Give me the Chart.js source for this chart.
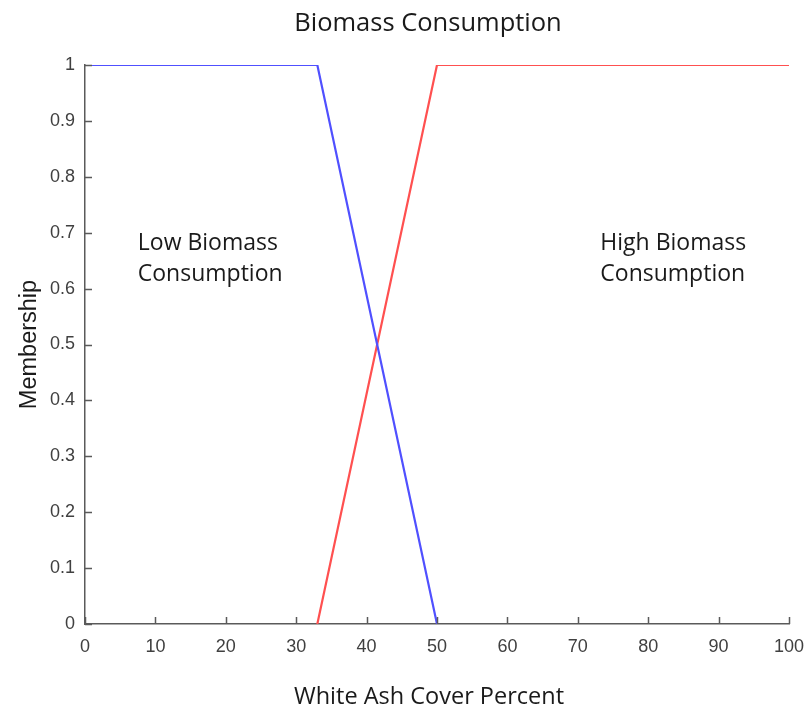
<!DOCTYPE html>
<html>
<head>
<meta charset="utf-8">
<script src="https://cdn.jsdelivr.net/npm/chart.js@4.4.1/dist/chart.umd.min.js"></script>
<style>
  html, body { margin: 0; padding: 0; background: #fff; }
  #wrap { width: 807px; height: 709px; }
</style>
</head>
<body>
<div id="wrap"><canvas id="fuzzyChart"></canvas></div>
<script>
// membership function breakpoints
const lowX = [0, 33, 50];
const lowY = [1, 1, 0];
const highX = [33, 50, 100];
const highY = [0, 1, 1];

const xTicks = [0, 10, 20, 30, 40, 50, 60, 70, 80, 90, 100];
const yTicks = [0, 0.1, 0.2, 0.3, 0.4, 0.5, 0.6, 0.7, 0.8, 0.9, 1];

const chartTitle = 'Biomass Consumption';
const xTitle = 'White Ash Cover Percent';
const yTitle = 'Membership';
const lowLabel = ['Low Biomass', 'Consumption'];
const highLabel = ['High Biomass', 'Consumption'];

const toPoints = (xs, ys) => xs.map((x, i) => ({ x: x, y: ys[i] }));

const axisColor = '#5a5a5a';
const textFont = '"Open Sans", Lato, sans-serif';
const tickFont = { family: '"Liberation Sans", Arial, sans-serif', size: 18 };

// inward tick marks + free text (titles, region labels)
const extras = {
    id: 'extras',
    afterDraw(chart) {
        const ctx = chart.ctx;
        const xs = chart.scales.x, ys = chart.scales.y;
        const area = chart.chartArea;
        ctx.save();
        ctx.strokeStyle = axisColor;
        ctx.lineWidth = 1.5;
        ctx.beginPath();
        xTicks.forEach(v => {
            const px = Math.round(xs.getPixelForValue(v)) + 0.5;
            ctx.moveTo(px, area.bottom);
            ctx.lineTo(px, area.bottom - 7);
        });
        yTicks.forEach(v => {
            const py = Math.round(ys.getPixelForValue(v)) + 0.5;
            ctx.moveTo(area.left, py);
            ctx.lineTo(area.left + 7, py);
        });
        ctx.stroke();

        ctx.fillStyle = '#1a1a1a';
        ctx.textAlign = 'center';
        ctx.textBaseline = 'middle';
        ctx.font = '25.5px ' + textFont;
        ctx.fillText(chartTitle, 428, 24);
        ctx.font = '23.5px ' + textFont;
        ctx.fillText(xTitle, 429, 697);

        ctx.font = '23px ' + textFont;
        ctx.textAlign = 'left';
        const drawLabel = (lines, x, y) => {
            const px = xs.getPixelForValue(x);
            const py = ys.getPixelForValue(y);
            lines.forEach((t, i) => ctx.fillText(t, px, py + i * 31));
        };
        drawLabel(lowLabel, 7.5, 0.68);
        drawLabel(highLabel, 73.2, 0.68);
        ctx.restore();
    }
};

new Chart(document.getElementById('fuzzyChart'), {
    type: 'line',
    data: {
        datasets: [
            {
                label: 'Low',
                data: toPoints(lowX, lowY),
                borderColor: 'rgb(80, 80, 255)',
                borderWidth: 2.2,
                pointRadius: 0,
                tension: 0
            },
            {
                label: 'High',
                data: toPoints(highX, highY),
                borderColor: 'rgb(255, 80, 80)',
                borderWidth: 2.2,
                pointRadius: 0,
                tension: 0
            }
        ]
    },
    options: {
        responsive: true,
        maintainAspectRatio: false,
        animation: false,
        layout: { padding: { top: 65, right: 0, left: 0, bottom: 0 } },
        plugins: {
            legend: { display: false },
            tooltip: { enabled: false }
        },
        scales: {
            x: {
                type: 'linear',
                min: 0,
                max: 100,
                afterBuildTicks: s => { s.ticks = xTicks.map(v => ({ value: v })); },
                afterFit: s => { s.height = 85; s.paddingRight = 18; },
                grid: { display: false, drawTicks: false },
                border: { display: true, color: axisColor, width: 1.5 },
                ticks: { padding: 12, color: '#404040', font: tickFont, maxRotation: 0 }
            },
            y: {
                min: 0,
                max: 1,
                afterBuildTicks: s => { s.ticks = yTicks.map(v => ({ value: v })); },
                afterFit: s => { s.width = 85; },
                grid: { display: false, drawTicks: false },
                border: { display: true, color: axisColor, width: 1.5 },
                ticks: {
                    padding: 10,
                    color: '#404040',
                    font: tickFont,
                    callback: v => String(Math.round(v * 10) / 10)
                },
                title: {
                    display: true,
                    text: yTitle,
                    color: '#1a1a1a',
                    font: { family: '"Liberation Sans", Arial, sans-serif', size: 23.5 },
                    padding: { top: 15, bottom: 0 }
                }
            }
        }
    },
    plugins: [extras]
});
</script>
</body>
</html>
